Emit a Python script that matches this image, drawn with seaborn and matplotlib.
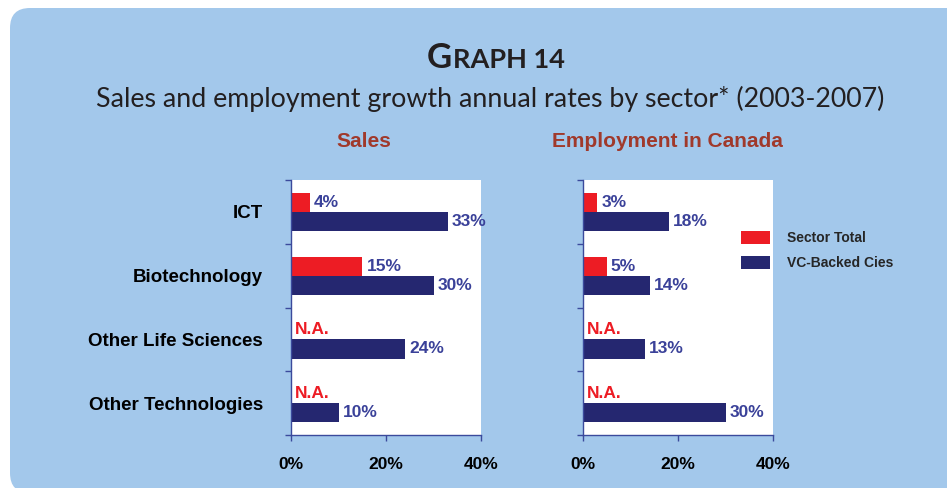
import numpy as np
import pandas as pd
import matplotlib
matplotlib.use('Agg')
import matplotlib.pyplot as plt
import seaborn as sns
from matplotlib.patches import FancyBboxPatch, Patch

# chart data
sectors = ['ICT', 'Biotechnology', 'Other Life Sciences', 'Other Technologies']
series = ['Sector Total', 'VC-Backed Cies']
sales_total = [4, 15, np.nan, np.nan]
sales_vc = [33, 30, 24, 10]
emp_total = [3, 5, np.nan, np.nan]
emp_vc = [18, 14, 13, 30]
x_ticks = [0, 20, 40]
panel_titles = ['Sales', 'Employment in Canada']

RED = '#ED1C24'
NAVY = '#252770'
LABEL_BLUE = '#3A4199'
TITLE_RED = '#A0392B'
BG = '#A3C8EB'
SPINE = '#3B4A9C'

sns.set_theme(style='white')
plt.rcParams['font.family'] = ['Liberation Sans', 'DejaVu Sans']


def make_frame(total, vc):
    rows = []
    for s, t, v in zip(sectors, total, vc):
        rows.append({'sector': s, 'series': series[0], 'value': t})
        rows.append({'sector': s, 'series': series[1], 'value': v})
    return pd.DataFrame(rows)


W, H, DPI = 947, 488, 100
fig = plt.figure(figsize=(W / DPI, H / DPI), dpi=DPI)
fig.patch.set_facecolor('white')

# rounded light-blue panel behind everything
bg = FancyBboxPatch((10 / DPI, -0.05), 9.8, (H - 8) / DPI + 0.05,
                    boxstyle='round,pad=0,rounding_size=0.2',
                    transform=fig.dpi_scale_trans, facecolor=BG,
                    edgecolor='none', zorder=-1)
fig.patches.append(bg)

ax_bottom = 1 - 435 / H
ax_height = 255 / H
ax_width = 190 / W
axes = [fig.add_axes([291 / W, ax_bottom, ax_width, ax_height]),
        fig.add_axes([583 / W, ax_bottom, ax_width, ax_height])]

frames = [make_frame(sales_total, sales_vc), make_frame(emp_total, emp_vc)]

for i, (ax, df) in enumerate(zip(axes, frames)):
    plot_df = df.copy()
    plot_df['value'] = plot_df['value'].fillna(0)
    sns.barplot(data=plot_df, y='sector', x='value', hue='series',
                hue_order=series, order=sectors, palette=[RED, NAVY],
                width=0.6, saturation=1, orient='h', errorbar=None,
                linewidth=0, legend=False, ax=ax)
    ax.set_facecolor('white')
    ax.set_xlim(0, 40)
    ax.set_ylim(3.5, -0.5)
    ax.set_xlabel('')
    ax.set_ylabel('')

    # value labels
    for cont, name in zip(ax.containers, series):
        vals = df[df['series'] == name].set_index('sector').loc[sectors, 'value']
        labels = ['N.A.' if np.isnan(v) else f'{v:.0f}%' for v in vals]
        texts = ax.bar_label(cont, labels=labels, padding=3,
                             fontsize=12.5, fontweight='bold')
        for t, v in zip(texts, vals):
            t.set_color(RED if np.isnan(v) else LABEL_BLUE)

    # axes styling
    for side in ['top', 'right']:
        ax.spines[side].set_visible(False)
    for side in ['left', 'bottom']:
        ax.spines[side].set_color(SPINE)
        ax.spines[side].set_linewidth(1)
    ax.set_xticks(x_ticks)
    ax.set_xticklabels([f'{x}%' for x in x_ticks], fontsize=12.5, fontweight='bold',
                       color='black')
    ax.tick_params(axis='x', length=4, width=1, color=SPINE, pad=12,
                   direction='out', bottom=True)
    ax.set_yticks(range(len(sectors)))
    ax.set_yticks(np.arange(-0.5, len(sectors), 1), minor=True)
    ax.tick_params(axis='y', which='major', length=0, pad=20)
    ax.tick_params(axis='y', which='minor', length=4, width=1, color=SPINE,
                   direction='out', left=True)
    if i == 0:
        ax.set_yticklabels(sectors, fontsize=13.5, fontweight='bold', color='black')
    else:
        ax.set_yticklabels([])

# panel titles
fig.text(364 / W, 1 - 142 / H, panel_titles[0], ha='center', va='center',
         fontsize=15, fontweight='bold', color=TITLE_RED)
fig.text(667 / W, 1 - 142 / H, panel_titles[1], ha='center', va='center',
         fontsize=15, fontweight='bold', color=TITLE_RED)

# legend
handles = [Patch(facecolor=RED, edgecolor='none'), Patch(facecolor=NAVY, edgecolor='none')]
fig.legend(handles, series, loc='upper left',
           bbox_to_anchor=(741 / W, 1 - 231 / H), frameon=False,
           prop={'size': 10, 'weight': 'bold'}, handlelength=2.1,
           handleheight=1.1, handletextpad=1.2, labelspacing=0.75,
           borderpad=0, borderaxespad=0)

# title with small caps
title_font = ['Lato', 'DejaVu Sans']
renderer = fig.canvas.get_renderer()
t1 = fig.text(0, 1 - 68 / H, 'G', fontsize=25, fontweight='bold',
              family=title_font, color='#231F20', va='baseline', ha='left')
t2 = fig.text(0, 1 - 68 / H, 'RAPH 14', fontsize=19.5, fontweight='bold',
              family=title_font, color='#231F20', va='baseline', ha='left')
w1 = t1.get_window_extent(renderer).width
w2 = t2.get_window_extent(renderer).width
x0 = 495 - (w1 + w2) / 2
t1.set_x(x0 / W)
t2.set_x((x0 + w1 + 1) / W)

fig.text(490 / W, 1 - 107 / H,
         'Sales and employment growth annual rates by sector* (2003-2007)',
         fontsize=19.3, family=title_font, color='#231F20',
         ha='center', va='baseline')

fig.savefig('out.png', dpi=DPI, facecolor=fig.get_facecolor())
